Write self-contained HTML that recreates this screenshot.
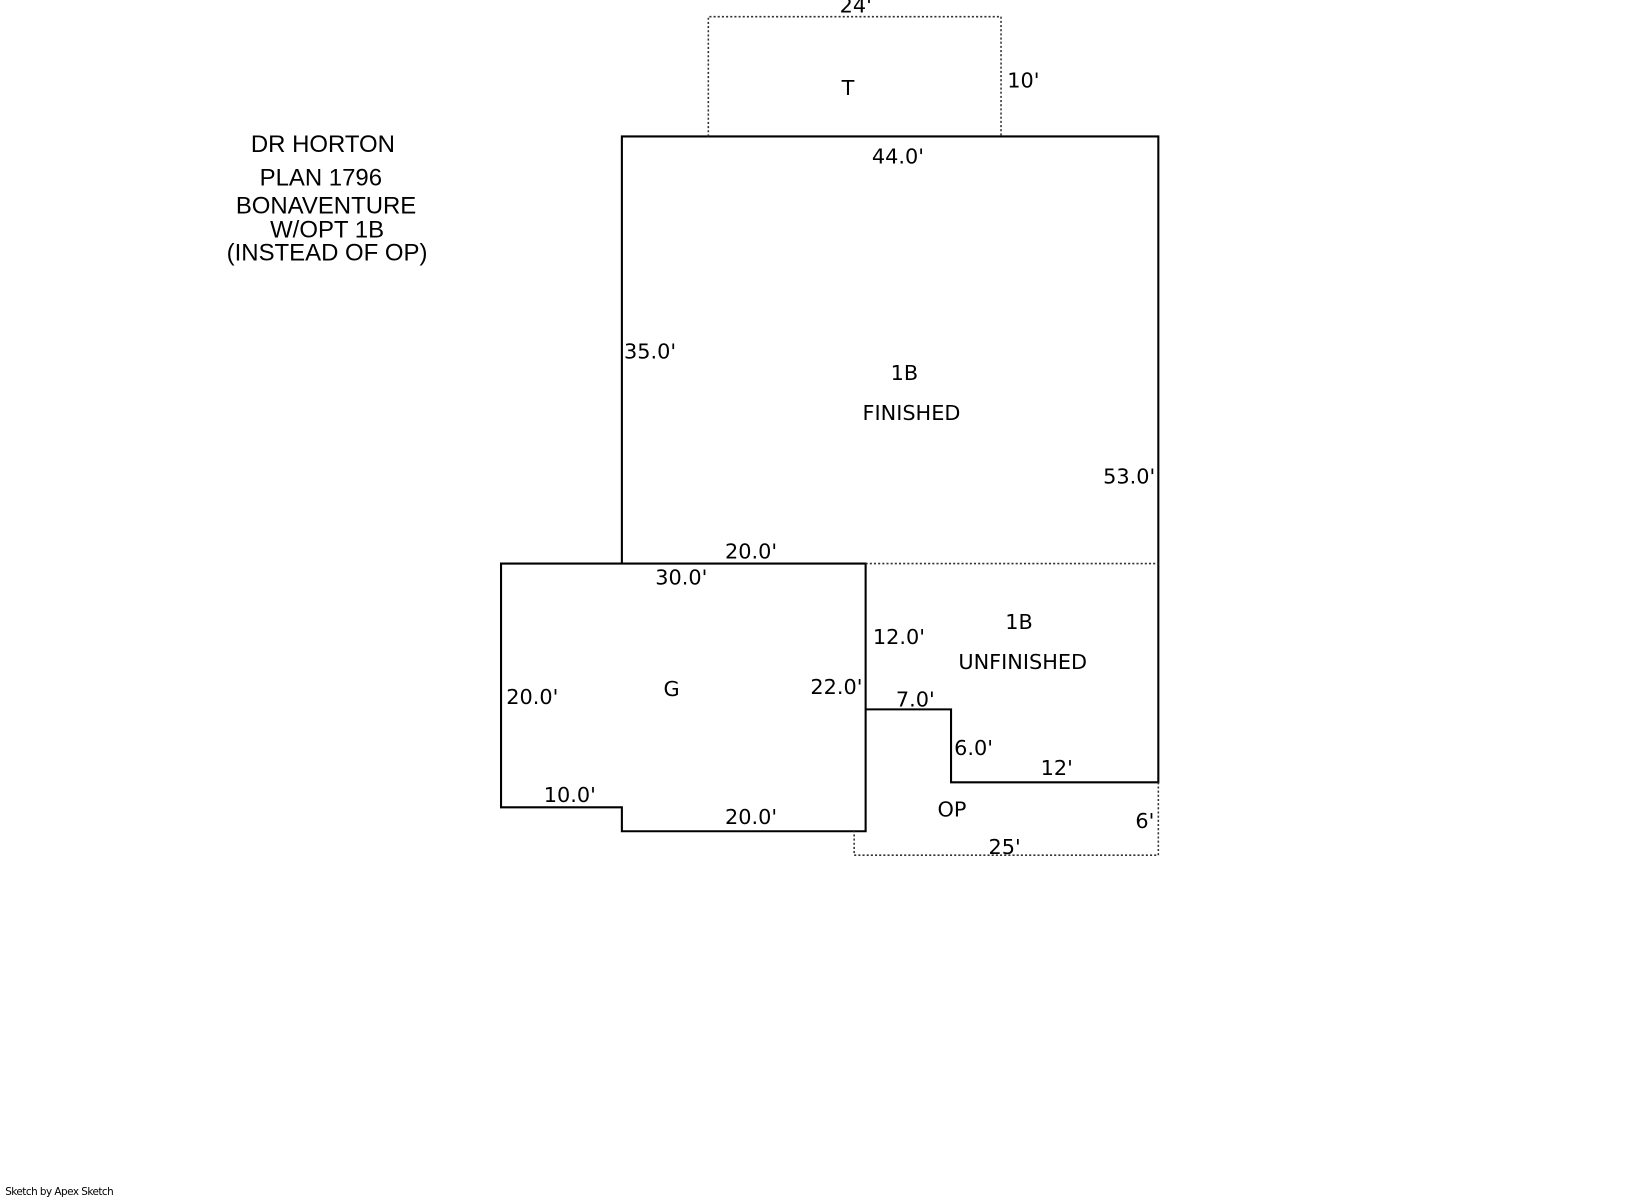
<!DOCTYPE html>
<html><head><meta charset="utf-8"><style>
html,body{margin:0;padding:0;background:#fff;}
svg{display:block;}
.d{font-family:"DejaVu Sans","Liberation Sans",sans-serif;font-size:20px;fill:#000;}
.s{font-family:"DejaVu Sans","Liberation Sans",sans-serif;font-size:20px;fill:#000;}
.t{font-family:"Liberation Sans",sans-serif;font-size:23px;fill:#000;text-anchor:middle;}
</style></head><body>
<svg width="1632" height="1197" viewBox="0 0 1566.72 1149.12" xmlns="http://www.w3.org/2000/svg">
<g fill="none" stroke="#000" stroke-width="2">
<path d="M597 541 L597 131 L1112 131 L1112 541"/>
<path d="M481 541 L831 541 L831 798 L597 798 L597 775 L481 775 Z"/>
<path d="M831 681 L913 681 L913 751 L1112 751 L1112 541"/>
</g>
<g fill="none" stroke="#333" stroke-width="1.5" stroke-dasharray="2,2">
<path d="M680 131 L680 16 L961 16 L961 131"/>
<path d="M831 541 L1112 541"/>
<path d="M1112 751 L1112 821 L820 821 L820 798"/>
</g>
<text class="t" x="310" y="146">DR HORTON</text>
<text class="t" x="308" y="178">PLAN 1796</text>
<text class="t" x="313" y="205">BONAVENTURE</text>
<text class="t" x="314" y="228">W/OPT 1B</text>
<text class="t" x="314" y="250">(INSTEAD OF OP)</text>
<text class="d" x="806" y="12">24'</text>
<text class="d" x="808" y="91">T</text>
<text class="d" x="967" y="84">10'</text>
<text class="d" x="837" y="157">44.0'</text>
<text class="d" x="599" y="344">35.0'</text>
<text class="d" x="855" y="365">1B</text>
<text class="s" x="828" y="403">FINISHED</text>
<text class="d" x="1059" y="464">53.0'</text>
<text class="d" x="696" y="536">20.0'</text>
<text class="d" x="629" y="561">30.0'</text>
<text class="d" x="838" y="618">12.0'</text>
<text class="s" x="965" y="604">1B</text>
<text class="s" x="920" y="642">UNFINISHED</text>
<text class="d" x="486" y="676">20.0'</text>
<text class="d" x="637" y="668">G</text>
<text class="d" x="778" y="666">22.0'</text>
<text class="d" x="860" y="678">7.0'</text>
<text class="d" x="916" y="725">6.0'</text>
<text class="d" x="999" y="744">12'</text>
<text class="d" x="522" y="770">10.0'</text>
<text class="d" x="900" y="784">OP</text>
<text class="d" x="696" y="791">20.0'</text>
<text class="d" x="1090" y="795">6'</text>
<text class="d" x="949" y="820">25'</text>
<text x="5" y="1147" style="font-family:'DejaVu Sans',sans-serif;font-size:10px;letter-spacing:-0.5px;fill:#000">Sketch by Apex Sketch</text>
</svg>
</body></html>
